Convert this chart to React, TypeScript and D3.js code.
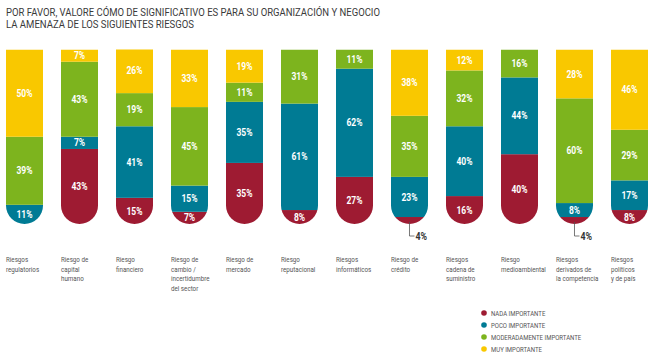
import React from "react";
import * as d3 from "d3";

const categories = [
  ["Riesgos", "regulatorios"],
  ["Riesgo de", "capital", "humano"],
  ["Riesgo", "financiero"],
  ["Riesgo de", "cambio /", "incertidumbre", "del sector"],
  ["Riesgo de", "mercado"],
  ["Riesgo", "reputacional"],
  ["Riesgos", "informáticos"],
  ["Riesgo de", "crédito"],
  ["Riesgos", "cadena de", "suministro"],
  ["Riesgo", "medioambiental"],
  ["Riesgos", "derivados de", "la competencia"],
  ["Riesgos", "políticos", "y de país"],
];

const nada = [0, 43, 15, 7, 35, 8, 27, 4, 16, 40, 4, 8];
const poco = [11, 7, 41, 15, 35, 61, 62, 23, 40, 44, 8, 17];
const moderada = [39, 43, 19, 45, 11, 31, 11, 35, 32, 16, 60, 29];
const muy = [50, 7, 26, 33, 19, 0, 0, 38, 12, 0, 28, 46];

const seriesNames = ["NADA IMPORTANTE", "POCO IMPORTANTE", "MODERADAMENTE IMPORTANTE", "MUY IMPORTANTE"];
const seriesColors = ["#9e1b32", "#007b94", "#7db41e", "#f9c800"];

const titleLines = [
  "POR FAVOR, VALORE CÓMO DE SIGNIFICATIVO ES PARA SU ORGANIZACIÓN Y NEGOCIO",
  "LA AMENAZA DE LOS SIGUIENTES RIESGOS",
];
const titleWidths = [374, 188];

const FONT = "Roboto, 'Liberation Sans', sans-serif";

function CText(props: any) {
  const { x, y, sx = 0.8, children, anchor = "start", ...rest } = props;
  return (
    <text transform={`translate(${x},${y}) scale(${sx},1)`} textAnchor={anchor} fontFamily={FONT} {...rest}>
      {children}
    </text>
  );
}

export default function App() {
  const W = 660, H = 361;
  const idx = categories.map((_, i) => i);
  const x = d3.scaleBand<number>().domain(idx).range([6, 648]).paddingInner(0.327).paddingOuter(0);
  const y = d3.scaleLinear().domain([0, 100]).range([224, 49.5]);
  const bw = x.bandwidth();
  const r = bw / 2;

  const rows = idx.map((i) => ({ i, s0: nada[i], s1: poco[i], s2: moderada[i], s3: muy[i] }));
  const stack = d3.stack<any>().keys(["s0", "s1", "s2", "s3"]);
  const stacked = stack(rows);

  return (
    <svg width={W} height={H} style={{ display: "block", position: "absolute", left: 0, top: 0 }}>
      <rect width={W} height={H} fill="#fff" />
      <defs>
        {idx.map((i) => {
          const x0 = x(i)!;
          const top = y(100);
          const bot = y(0);
          return (
            <clipPath id={`clip${i}`} key={i}>
              <path d={`M${x0},${top}H${x0 + bw}V${bot - r}A${r},${r} 0 0 1 ${x0},${bot - r}Z`} />
            </clipPath>
          );
        })}
      </defs>
      {titleLines.map((t, k) => (
        <text
          key={k}
          x={6}
          y={15.5 + k * 12}
          fontFamily={FONT}
          fontSize={10}
          fill="#3a3a3a"
          textLength={titleWidths[k]}
          lengthAdjust="spacingAndGlyphs"
        >
          {t}
        </text>
      ))}
      {idx.map((i) => (
        <g key={i} clipPath={`url(#clip${i})`}>
          {stacked.map((s, si) => {
            const d = s[i];
            if (d[1] - d[0] <= 0) return null;
            return (
              <rect
                key={si}
                x={x(i)!}
                y={y(d[1])}
                width={bw}
                height={y(d[0]) - y(d[1])}
                fill={seriesColors[si]}
              />
            );
          })}
        </g>
      ))}
      {idx.map((i) =>
        stacked.map((s, si) => {
          const d = s[i];
          const v = d[1] - d[0];
          if (v <= 0) return null;
          const cx = x(i)! + bw / 2;
          if (v < 5) {
            const yb = y(0) - 2;
            return (
              <g key={`${i}-${si}`}>
                <path d={`M${cx},${yb}V${yb + 14}H${cx + 5}`} fill="none" stroke="#555" strokeWidth={0.8} />
                <CText x={cx + 6} y={yb + 18} sx={0.8} fontSize={11} fontWeight="bold" fill="#333">
                  {v}%
                </CText>
              </g>
            );
          }
          const cy = (y(d[0]) + y(d[1])) / 2;
          return (
            <CText
              key={`${i}-${si}`}
              x={cx}
              y={cy + 3.6}
              sx={0.85}
              anchor="middle"
              fontSize={10}
              fontWeight="bold"
              fill="#fff"
            >
              {v}%
            </CText>
          );
        })
      )}
      {categories.map((lines, i) =>
        lines.map((l, k) => (
          <CText key={`${i}-${k}`} x={x(i)!} y={262 + k * 9.7} sx={0.78} fontSize={8} fill="#555">
            {l}
          </CText>
        ))
      )}
      {seriesNames.map((n, k) => (
        <g key={k}>
          <circle cx={484} cy={313 + k * 12} r={2.8} fill={seriesColors[k]} />
          <CText x={491} y={313 + k * 12 + 2.5} sx={0.86} fontSize={7} fill="#555">
            {n}
          </CText>
        </g>
      ))}
    </svg>
  );
}
